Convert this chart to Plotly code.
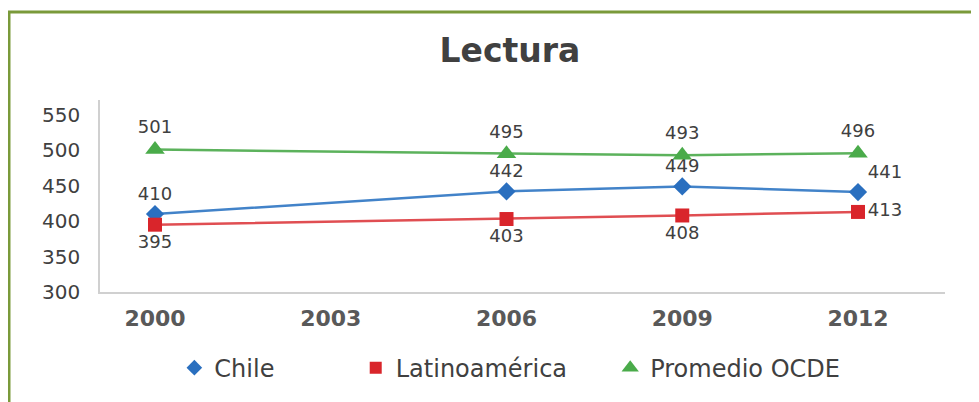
import plotly.graph_objects as go

years = [2000, 2003, 2006, 2009, 2012]
year_labels = ["2000", "2003", "2006", "2009", "2012"]
chile = [410, None, 442, 449, 441]
latam = [395, None, 403, 408, 413]
ocde = [501, None, 495, 493, 496]
y_ticks = [300, 350, 400, 450, 500, 550]

series = [
    dict(name="Chile", vals=chile, line="#4283c9", marker="#2a6fbf", symbol="diamond", size=14,
         pos=["top center", "top center", "top center", "top center", "top right"], pad=10),
    dict(name="Latinoamérica", vals=latam, line="#e04e52", marker="#d9252b", symbol="square", size=14,
         pos=["bottom center", "bottom center", "bottom center", "bottom center", "middle right"], pad=5),
    dict(name="Promedio OCDE", vals=ocde, line="#5cb25c", marker="#4aab4a", symbol="triangle-up", size=17,
         pos="top center", pad=0),
]

fig = go.Figure()
for s in series:
    fig.add_trace(go.Scatter(
        x=years, y=s["vals"], name=s["name"], mode="lines+markers+text", connectgaps=True,
        showlegend=False,
        line=dict(color=s["line"], width=2.5),
        marker=dict(symbol=s["symbol"], size=s["size"], color=s["marker"]),
        text=[str(v) if v is not None else "" for v in s["vals"]],
        textposition=s["pos"],
        textfont=dict(family="DejaVu Sans", size=18, color="#404040"),
        cliponaxis=False,
    ))
for s in series:
    fig.add_trace(go.Scatter(
        x=[None], y=[None], mode="markers", name=s["name"] + "\u00a0" * s["pad"],
        marker=dict(symbol=s["symbol"], size=s["size"] - 2, color=s["marker"]),
        showlegend=True,
    ))

fig.update_layout(
    width=971, height=394,
    margin=dict(l=92, r=34, t=92, b=110),
    paper_bgcolor="white", plot_bgcolor="white",
    title=dict(text="<b>Lectura</b>", x=0.517, xanchor="center", y=0.893, yanchor="middle",
               xref="container", yref="container",
               font=dict(family="DejaVu Sans", size=33, color="#404040")),
    showlegend=True,
    legend=dict(orientation="h", x=0.088, xanchor="left", y=-0.396, yanchor="middle",
                font=dict(family="DejaVu Sans", size=24, color="#404040"),
                itemwidth=30, traceorder="normal"),
    xaxis=dict(
        range=[1999.061, 2013.485], tickmode="array", tickvals=years,
        ticktext=["<b>%s</b>" % t for t in year_labels],
        showgrid=False, zeroline=False, showline=True, linecolor="#d0d0d0", linewidth=2,
        ticks="", ticklabelstandoff=6,
        tickfont=dict(family="DejaVu Sans", size=22, color="#595959"),
    ),
    yaxis=dict(
        range=[300, 571], tickmode="array", tickvals=y_ticks,
        showgrid=False, zeroline=False, showline=True, linecolor="#d0d0d0", linewidth=1.5,
        ticks="", ticklabelstandoff=14,
        tickfont=dict(family="DejaVu Sans", size=20, color="#404040"),
    ),
    shapes=[dict(type="rect", xref="paper", yref="paper",
                 x0=-0.1077, x1=1.2, y0=-0.7, y1=1.458,
                 line=dict(color="#7a9a3a", width=3), fillcolor="rgba(0,0,0,0)", layer="below")],
)

fig.write_html("out.html")
